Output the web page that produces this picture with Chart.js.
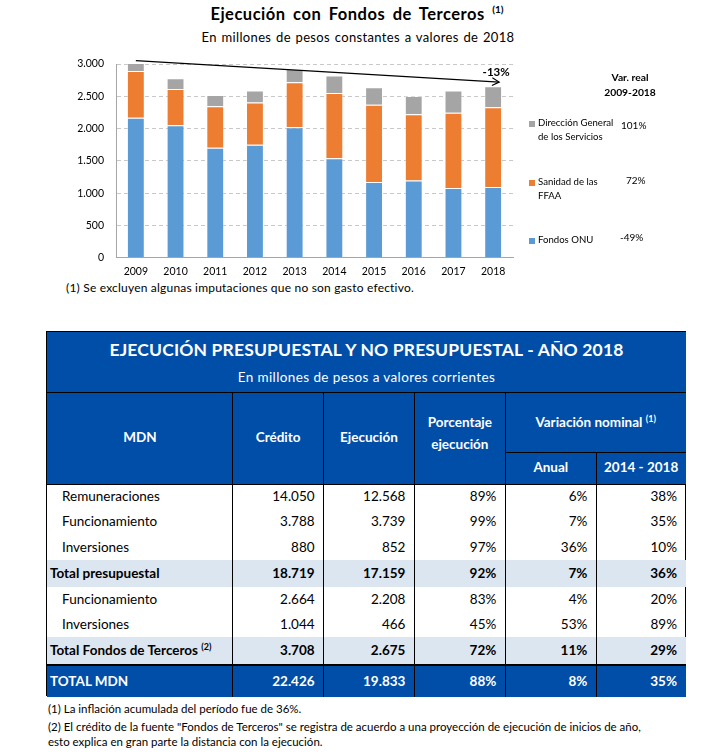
<!DOCTYPE html>
<html>
<head>
<meta charset="utf-8">
<script src="https://cdn.jsdelivr.net/npm/chart.js@4"></script>
<style>
  html,body{margin:0;padding:0;background:#fff;}
  body{width:704px;height:756px;position:relative;overflow:hidden;font-family:Lato,"Open Sans",sans-serif;color:#000;}
  .abs{position:absolute;white-space:nowrap;}
  #chartTitle{left:0;width:704px;top:4px;text-align:center;font-weight:bold;font-size:16.5px;letter-spacing:0.5px;word-spacing:3px;padding-left:10px;box-sizing:border-box;}
  #chartTitle sup{font-size:10px;vertical-align:top;position:relative;top:-1px;letter-spacing:0;}
  #chartSub{left:0;width:704px;top:29px;text-align:center;font-size:13px;letter-spacing:0.35px;word-spacing:1px;padding-left:12px;box-sizing:border-box;}
  canvas{position:absolute;left:0;top:0;}
  .leg{position:absolute;font-size:9.6px;line-height:13.5px;}
  .sq{position:absolute;width:6px;height:6px;}
  .pct{position:absolute;font-size:10px;}
  #varHead{left:590px;width:80px;top:70px;text-align:center;font-weight:bold;font-size:10.3px;line-height:15px;}
  #foot1{left:66px;top:280px;font-size:12px;letter-spacing:0.2px;}
  #tbl{position:absolute;left:46px;top:331px;width:640px;height:365px;box-sizing:border-box;border:1px solid #000;background:#fff;}
  .blk{position:absolute;}
  .cell{position:absolute;font-size:13.5px;line-height:16px;white-space:nowrap;}
  .tnote{position:absolute;left:48px;font-size:11.5px;white-space:nowrap;}
</style>
</head>
<body>
<div id="chartTitle" class="abs">Ejecución con Fondos de Terceros <sup>(1)</sup></div>
<div id="chartSub" class="abs">En millones de pesos constantes a valores de 2018</div>
<canvas id="c" width="704" height="280" style="width:704px;height:280px"></canvas>
<div id="varHead" class="abs">Var. real<br>2009-2018</div>
<div id="legend"></div>
<div id="foot1" class="abs">(1) Se excluyen algunas imputaciones que no son gasto efectivo.</div>
<div id="tbl"></div>
<div class="tnote" style="top:702px">(1) La inflación acumulada del período fue de 36%.</div>
<div class="tnote" style="top:720px">(2) El crédito de la fuente "Fondos de Terceros" se registra de acuerdo a una proyección de ejecución de inicios de año,</div>
<div class="tnote" style="top:735px">esto explica en gran parte la distancia con la ejecución.</div>

<script>
// ---------- chart data ----------
const years = ['2009','2010','2011','2012','2013','2014','2015','2016','2017','2018'];
const fondosONU = [2166, 2053, 1703, 1750, 2022, 1539, 1173, 1194, 1081, 1096];
const sanidad   = [726, 561, 643, 653, 695, 1013, 1194, 1029, 1163, 1235];
const direccion = [161, 165, 175, 185, 206, 268, 273, 283, 344, 324];
const seriesNames = ['Fondos ONU', 'Sanidad de las FFAA', 'Dirección General de los Servicios'];
const varReal = ['-49%', '72%', '101%'];
const trendLabel = '-13%';
const yTicks = [0, 500, 1000, 1500, 2000, 2500, 3000];

// ---------- table data ----------
const tblTitle = 'EJECUCIÓN PRESUPUESTAL Y NO PRESUPUESTAL - AÑO 2018';
const tblSub = 'En millones de pesos a valores corrientes';
const rowLabels = ['Remuneraciones','Funcionamiento','Inversiones','Total presupuestal','Funcionamiento','Inversiones','Total Fondos de Terceros','TOTAL MDN'];
const credito    = ['14.050','3.788','880','18.719','2.664','1.044','3.708','22.426'];
const ejecucion  = ['12.568','3.739','852','17.159','2.208','466','2.675','19.833'];
const porcentaje = ['89%','99%','97%','92%','83%','45%','72%','88%'];
const anual      = ['6%','7%','36%','7%','4%','53%','11%','8%'];
const var1418    = ['38%','35%','10%','36%','20%','89%','29%','35%'];
const rowKind    = ['item','item','item','total','item','item','total','grand'];

const colors = ['#5b9bd5', '#ed7d31', '#a5a5a5'];
const fmt = v => String(v).replace(/\B(?=(\d{3})+(?!\d))/g, '.');

const trendPlugin = {
  id: 'trend',
  afterDatasetsDraw(chart) {
    const xs = chart.scales.x, ys = chart.scales.y, ctx = chart.ctx;
    const totals = years.map((_, i) => fondosONU[i] + sanidad[i] + direccion[i]);
    const n = years.length - 1;
    const x0 = xs.getPixelForValue(0), y0 = ys.getPixelForValue(totals[0]);
    const x1 = xs.getPixelForValue(n) + 6, y1 = ys.getPixelForValue(totals[n] + 65);
    ctx.save();
    ctx.strokeStyle = '#000'; ctx.lineWidth = 1.2;
    ctx.beginPath(); ctx.moveTo(x0, y0); ctx.lineTo(x1, y1); ctx.stroke();
    const a = Math.atan2(y1 - y0, x1 - x0), L = 8;
    ctx.beginPath();
    ctx.moveTo(x1 - L * Math.cos(a - 0.5), y1 - L * Math.sin(a - 0.5));
    ctx.lineTo(x1, y1);
    ctx.lineTo(x1 - L * Math.cos(a + 0.5), y1 - L * Math.sin(a + 0.5));
    ctx.stroke();
    ctx.fillStyle = '#000';
    ctx.font = 'bold 11.5px Lato';
    ctx.textAlign = 'center'; ctx.textBaseline = 'middle';
    ctx.fillText(trendLabel, x1 - 3, y1 - 10);
    ctx.restore();
  }
};

const chart = new Chart(document.getElementById('c'), {
  type: 'bar',
  data: {
    labels: years,
    datasets: [
      { label: seriesNames[0], data: fondosONU, backgroundColor: colors[0] },
      { label: seriesNames[1], data: sanidad, backgroundColor: colors[1] },
      { label: seriesNames[2], data: direccion, backgroundColor: colors[2] }
    ]
  },
  options: {
    responsive: false,
    animation: false,
    devicePixelRatio: 1,
    layout: { padding: { left: 0, right: 191, top: 64, bottom: 0 } },
    datasets: { bar: { categoryPercentage: 1, barPercentage: 0.45, borderWidth: 1, borderColor: 'rgba(255,255,255,0.35)' } },
    plugins: { legend: { display: false }, tooltip: { enabled: false } },
    scales: {
      x: {
        stacked: true,
        grid: { display: false, drawTicks: false },
        border: { display: true, color: '#a6a6a6' },
        ticks: { color: '#000', font: { family: 'Lato', size: 10.5 }, padding: 8 },
        afterFit(s) { s.height = 22.3; }
      },
      y: {
        stacked: true, min: 0, max: 3000,
        afterBuildTicks(s) { s.ticks = yTicks.map(v => ({ value: v })); },
        ticks: { color: '#000', font: { family: 'Lato', size: 10.5 }, padding: 12, callback: v => fmt(v) },
        grid: { color: '#c8c8c8', drawTicks: false },
        border: { display: true, color: '#a6a6a6', dash: [4, 3] },
        afterFit(s) { s.width = 116; }
      }
    }
  },
  plugins: [trendPlugin]
});

// ---------- legend (HTML) ----------
const legend = document.getElementById('legend');
const legItems = [
  { i: 2, lines: ['Dirección General', 'de los Servicios'], top: 116, pctLeft: 621, pctTop: 119 },
  { i: 1, lines: ['Sanidad de las', 'FFAA'], top: 175, pctLeft: 626, pctTop: 174 },
  { i: 0, lines: ['Fondos ONU'], top: 233, pctLeft: 620, pctTop: 231 }
];
legItems.forEach(it => {
  const sq = document.createElement('div');
  sq.className = 'sq'; sq.style.left = '529px'; sq.style.top = (it.top + 5) + 'px';
  sq.style.background = colors[it.i];
  legend.appendChild(sq);
  const t = document.createElement('div');
  t.className = 'leg'; t.style.left = '538px'; t.style.top = it.top + 'px';
  t.innerHTML = it.lines.join('<br>');
  legend.appendChild(t);
  const p = document.createElement('div');
  p.className = 'pct'; p.style.left = it.pctLeft + 'px'; p.style.top = it.pctTop + 'px';
  p.textContent = varReal[it.i];
  legend.appendChild(p);
});

// ---------- table (HTML) ----------
const tbl = document.getElementById('tbl');
const BLUE = '#004ea8', SHADE = '#dce6f1';
const colX = [0, 185.7, 276.6, 367.4, 458.3, 549.3, 639];
function blk(l, t, w, h, bg) {
  const d = document.createElement('div'); d.className = 'blk';
  Object.assign(d.style, { left: l + 'px', top: t + 'px', width: w + 'px', height: h + 'px', background: bg });
  tbl.appendChild(d); return d;
}
function txt(s, l, t, w, align, opts) {
  const d = document.createElement('div'); d.className = 'cell';
  Object.assign(d.style, { left: l + 'px', top: t + 'px', width: w + 'px', textAlign: align });
  if (opts) Object.assign(d.style, opts);
  d.innerHTML = s; tbl.appendChild(d); return d;
}
// backgrounds
blk(0, 0, 639, 152, BLUE);
const rowH = [25.3, 25.3, 25.3, 27, 25, 25, 27, 31];
let y = 152; const rowTop = [];
rowH.forEach((h, i) => { if (rowKind[i] === 'grand') y += 2; rowTop.push(y); y += h; });
rowKind.forEach((k, i) => {
  if (k === 'total') blk(0, rowTop[i], 639, rowH[i], SHADE);
  if (k === 'grand') blk(0, rowTop[i], 639, rowH[i], BLUE);
});
// lines
blk(0, 59.5, 639, 1, '#000');
blk(0, 151.5, 639, 1, '#000');
blk(colX[4], 119.5, 639 - colX[4], 1, '#000');
blk(0, rowTop[7] - 2, 639, 2, '#000');
[1, 2, 3, 4].forEach(c => blk(colX[c] - 0.5, 60, 1, 305, '#000'));
blk(colX[5] - 0.5, 120, 1, 245, '#000');
// header texts
const W = { color: '#fff', fontWeight: 'bold' };
txt(tblTitle, 0, 8, 639, 'center', { color: '#fff', fontWeight: 'bold', fontSize: '17.5px', lineHeight: '20px', letterSpacing: '0.15px' });
txt(tblSub, 0, 37, 639, 'center', { color: '#fff', fontSize: '13.5px', letterSpacing: '0.4px' });
txt('MDN', 0, 97, colX[1], 'center', W);
txt('Crédito', colX[1], 97, colX[2] - colX[1], 'center', W);
txt('Ejecución', colX[2], 97, colX[3] - colX[2], 'center', W);
txt('Porcentaje<br>ejecución', colX[3], 79, colX[4] - colX[3], 'center', Object.assign({ lineHeight: '22px' }, W));
txt('Variación nominal <sup style="font-size:9px;vertical-align:top;position:relative;top:-3px">(1)</sup>', colX[4], 82, colX[6] - colX[4], 'center', W);
txt('Anual', colX[4], 127, colX[5] - colX[4], 'center', W);
txt('2014 - 2018', colX[5], 127, colX[6] - colX[5], 'center', W);
// body texts
const cols = [credito, ejecucion, porcentaje, anual, var1418];
rowLabels.forEach((lab, i) => {
  const k = rowKind[i];
  const st = k === 'item' ? {} : { fontWeight: 'bold' };
  if (k === 'grand') st.color = '#fff';
  const ty = rowTop[i] + rowH[i] / 2 - 8.5;
  let label = lab;
  if (lab === 'Total Fondos de Terceros') label += ' <sup style="font-size:9px;vertical-align:top;position:relative;top:-3px">(2)</sup>';
  txt(label, k === 'item' ? 15 : 3, ty, 180, 'left', st);
  cols.forEach((arr, c) => {
    txt(arr[i], colX[c + 1], ty, colX[c + 2] - colX[c + 1] - 9, 'right', st);
  });
});
</script>
</body>
</html>
